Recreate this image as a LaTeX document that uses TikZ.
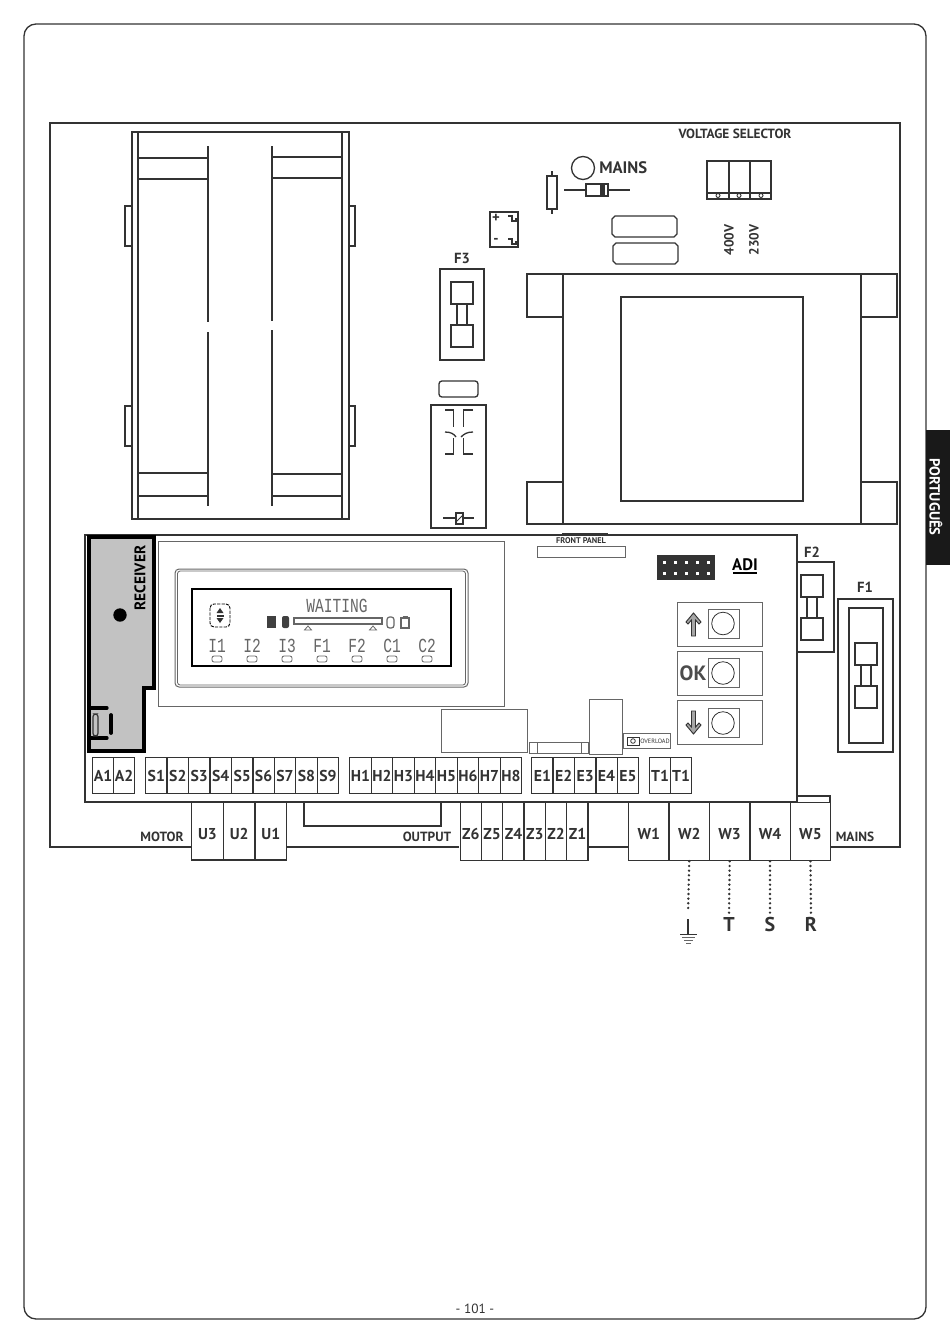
\documentclass[tikz,border=0pt]{standalone}
\usepackage{fontspec}
\setmainfont{PT Sans}
\setmonofont{Liberation Mono}
\usetikzlibrary{calc}

\definecolor{inkline}{HTML}{333333}
\definecolor{pcbgrey}{HTML}{666666}
\definecolor{rxgrey}{HTML}{C2C2C2}

% 1 unit = 1 pixel of the sheet
\tikzset{
  pcbline/.style={draw=inkline, line width=0.98pt},
  fineline/.style={draw=pcbgrey, line width=0.75pt},
  lcdline/.style={draw=pcbgrey, line width=0.6pt},
  termbox/.style={draw=inkline, line width=0.98pt, inner sep=0pt, anchor=north west,
    text=inkline, font=\bfseries\fontsize{11.8}{12}\selectfont},
  caption/.style={inner sep=0pt, text=inkline, font=\bfseries\fontsize{#1}{12}\selectfont},
  caption/.default=10,
  lcdtext/.style={inner sep=0pt, text=pcbgrey, font=\ttfamily\fontsize{#1}{12}\selectfont},
  wiredots/.style={draw=inkline, line width=2pt, line cap=round, dash pattern=on 0pt off 3.5pt, shorten >=2.5pt},
}
% pushes a label down in its cell
\newcommand{\lowtext}[1]{\rule{0pt}{11.8pt}#1}
\newcommand{\lcdglyphs}[1]{\scalebox{0.95}[1.3]{#1}}

\begin{document}
\begin{tikzpicture}[x=0.75pt, y=-0.75pt]

  \useasboundingbox (0,0) rectangle (950,1343);

  % sheet
  \draw[pcbline, rounded corners=9pt] (24,24) rectangle (926,1319);
  \fill[black!90] (926,430) rectangle (950,565);
  \node[caption=11, text=white, rotate=-90] (tab) at (936,497) {PORTUGUÊS};
  \node[inner sep=0pt, text=inkline, font=\fontsize{10}{12}\selectfont] (page) at (475,1309) {- 101 -};

  % board outline, open where the terminals stand
  \draw[pcbline] (191,847) -- (50,847) -- (50,123) -- (900,123) -- (900,847) -- (830,847);
  \draw[pcbline] (286,847) -- (459,847);
  \draw[pcbline] (587,847) -- (628,847);

  % heat sink
  \draw[pcbline] (132,132) rectangle (349,519);
  \draw[pcbline] (138,132) -- (138,519);
  \draw[pcbline] (342,132) -- (342,519);
  \draw[pcbline] (138,158) rectangle (208,179);
  \draw[pcbline] (272,157) rectangle (342,178);
  \draw[pcbline] (138,473) rectangle (208,496);
  \draw[pcbline] (272,474) rectangle (342,496);
  \draw[pcbline] (208,146) -- (208,322);
  \draw[pcbline] (208,332) -- (208,506);
  \draw[pcbline] (272,146) -- (272,321);
  \draw[pcbline] (272,330) -- (272,506);
  \foreach \ty in {206,406} {
    \draw[pcbline] (132,\ty) -- (125,\ty) -- (125,\ty+40) -- (132,\ty+40);
    \draw[pcbline] (349,\ty) -- (355,\ty) -- (355,\ty+40) -- (349,\ty+40);
  }

  % mains section
  \node[caption=10] (voltsel) at (735,134) {VOLTAGE SELECTOR};
  \draw[pcbline] (583,168) circle (11.5);
  \node[caption=12.5, anchor=west] (mainsled) at (599,168) {MAINS};
  \draw[pcbline] (552,171) -- (552,214);
  \draw[pcbline, fill=white] (547,176) rectangle (557,209);
  \draw[pcbline] (564,190) -- (630,190);
  \draw[pcbline, fill=white] (586,184) rectangle (608,196);
  \fill[inkline] (600,184) rectangle (605,196);

  % voltage selector
  \draw[pcbline] (707,161) rectangle (771,199);
  \draw[pcbline] (729,161) -- (729,199);
  \draw[pcbline] (750,161) -- (750,199);
  \draw[pcbline] (707,193) -- (771,193);
  \foreach \vx in {718,739,761} \draw[line width=0.7pt, draw=inkline] (\vx,195.5) circle (2);
  \node[caption=10, rotate=90] (v400) at (729,240) {400V};
  \node[caption=10, rotate=90] (v230) at (754,240) {230V};

  % bridge
  \draw[pcbline] (490,212) rectangle (518,247);
  \draw[inkline, line width=1.8pt] (490,212) -- (518,212);
  \node[caption=11] (plus) at (496,218) {+};
  \node[caption=11] (minus) at (496,241) {-};
  \foreach \by in {0,23}
    \draw[inkline, line width=0.9pt] (508,216+\by) -- (512,216+\by) -- (512,221+\by) -- (516,221+\by) -- (516,218+\by);

  % capacitors
  \foreach \cx/\cy in {612/216,613/243}
    \draw[pcbline, shift={(\cx,\cy)}] (3,0) -- (62,0) -- (65,3) -- (65,18) -- (62,21) -- (3,21) -- (0,18) -- (0,3) -- cycle;

  % transformer
  \draw[pcbline] (563,274) rectangle (861,524);
  \draw[pcbline] (621,297) rectangle (803,501);
  \draw[pcbline] (527,274) rectangle (563,317);
  \draw[pcbline] (527,482) rectangle (563,524);
  \draw[pcbline] (861,274) rectangle (897,317);
  \draw[pcbline] (861,482) rectangle (897,524);

  % fuses
  \node[caption=11] (f3) at (462,258) {F3};
  \draw[pcbline] (440,269) rectangle (484,360);
  \node[caption=11] (f2) at (812,552) {F2};
  \draw[pcbline] (797,562) rectangle (834,652);
  \node[caption=11] (f1) at (865,587) {F1};
  \draw[pcbline] (838,599) rectangle (893,752);
  \draw[pcbline] (849,608) rectangle (883,743);
  \foreach \fx/\fy in {451/282,801/575,855/643} {
    \begin{scope}[shift={(\fx,\fy)}]
      \draw[pcbline] (0,0) rectangle (22,22);
      \draw[pcbline] (0,43) rectangle (22,65);
      \draw[pcbline] (6,22) -- (6,43);
      \draw[pcbline] (16,22) -- (16,43);
    \end{scope}
  }

  % relay
  \draw[pcbline, rounded corners=2.2pt] (439,381) rectangle (478,397);
  \draw[pcbline] (431,405) rectangle (486,528);
  \draw[pcbline] (445,410) -- (453.3,410) -- (453.3,427);
  \draw[pcbline] (473,410) -- (463.3,410) -- (463.3,427);
  \draw[pcbline] (445,454) -- (453.3,454) -- (453.3,438);
  \draw[pcbline] (473,454) -- (463.3,454) -- (463.3,438);
  \draw[pcbline] (445,432) .. controls (451,432) and (454,434) .. (456,437);
  \draw[pcbline] (473,432) .. controls (467,432) and (464,434) .. (461,437);
  \draw[pcbline] (443,518) -- (474,518);
  \draw[pcbline, fill=white] (456,513) rectangle (463,524);
  \draw[inkline, line width=0.7pt] (456,522) -- (463,515);

  % lower terminal blocks (the board lies over them)
  \foreach \lab [count=\i from 0] in {U3,U2,U1} {
    \node[termbox, minimum width=23.75pt, minimum height=43pt] (t\lab) at (191+\i*31.67,802) {\lowtext{\lab}};
  }
  \foreach \lab [count=\i from 0] in {Z6,Z5,Z4,Z3,Z2,Z1} {
    \node[termbox, minimum width=16pt, minimum height=43.5pt] (t\lab) at (459.5+\i*21.33,802) {\lowtext{\lab}};
  }
  \foreach \lab [count=\i from 0] in {W1,W2,W3,W4,W5} {
    \node[termbox, minimum width=30.3pt, minimum height=43.5pt] (t\lab) at (628+\i*40.4,802) {\lowtext{\lab}};
  }
  \draw[pcbline] (790,802) -- (790,796) -- (830,796) -- (830,802);

  % control board
  \draw[pcbline, fill=white] (85,535) rectangle (797,802);
  \draw[pcbline] (304,802) -- (304,826) -- (441,826) -- (441,802);
  \draw[inkline, line width=1.6pt] (562,534.5) -- (608,534.5);

  % receiver
  \draw[black, fill=rxgrey, line width=2.5pt] (89,537) -- (154,537) -- (154,688) -- (144,688) -- (144,751) -- (89,751) -- cycle;
  \fill[black] (120,615) circle (6.7);
  \node[caption=11.5, text=black, rotate=90] (receiver) at (140,578) {RECEIVER};
  \draw[black, line width=2.5pt, line cap=round] (89,708) -- (107,708);
  \draw[black, line width=2.5pt, line cap=round] (89,738) -- (107,738);
  \draw[black, line width=2.8pt, line cap=round] (111,715) -- (111,733);
  \draw[inkline, line width=0.9pt, rounded corners=2pt] (93,714) rectangle (98,736);

  % display
  \draw[fineline] (158,541) rectangle (504,706);
  \draw[fineline, rounded corners=3pt] (175,569) rectangle (468,687);
  \draw[lcdline, rounded corners=2pt] (177.5,571) rectangle (465.5,685);
  \draw[black, line width=0.8pt] (192,589) rectangle (451,666);
  \draw[black, line width=0.7pt, dash pattern=on 2.4pt off 0.9pt, rounded corners=3pt] (210,604) rectangle (230,627);
  \fill[black!80] (216.5,613) -- (223.5,613) -- (220,608) -- cycle;
  \fill[black!80] (216.5,618) -- (223.5,618) -- (220,623) -- cycle;
  \fill[black!80] (216.5,614.5) rectangle (223.5,616.5);
  \node[lcdtext=11.5] (waiting) at (337,606) {\lcdglyphs{WAITING}};
  \fill[black!75] (267,616) rectangle (276,628);
  \fill[black!75, rounded corners=1.5pt] (282,616) rectangle (289,628);
  \draw[lcdline, line width=0.9pt] (294,618) rectangle (382,624);
  \draw[lcdline, rounded corners=2pt, line width=0.9pt] (387,617) rectangle (394,628);
  \draw[lcdline, line width=0.9pt] (401,618) rectangle (409,628);
  \draw[lcdline, line width=1.1pt] (402.5,616.5) -- (407.5,616.5);
  \foreach \tx in {308,373}
    \draw[lcdline] (\tx-3.5,630) -- (\tx,626) -- (\tx+3.5,630) -- cycle;
  \foreach \lab/\lx in {I1/217,I2/252,I3/287,F1/322,F2/357,C1/392,C2/427} {
    \node[lcdtext=11.5] (lcd\lab) at (\lx,646) {\lcdglyphs{\lab}};
    \draw[lcdline, rounded corners=1.5pt] (\lx-5,656) rectangle (\lx+5,662);
  }

  % front panel, connector, logo
  \node[caption=6.2] (frontpanel) at (581,541) {FRONT PANEL};
  \draw[fineline] (537,546) rectangle (625,557);
  \fill[inkline] (657,555) rectangle (715,580);
  \foreach \px in {664,675,686,697,708}
    \foreach \py in {562,573}
      \fill[white] (\px-1.5,\py-1.5) rectangle (\px+1.5,\py+1.5);
  \node[caption=12.5, text=black] (logo) at (745,565) {ADI};
  \draw[black, line width=1.1pt] (733,573) -- (757,573);

  % push buttons
  \foreach \bty/\cty in {602/623.5,651/673,700/723} {
    \draw[fineline] (677,\bty) rectangle (762,\bty+44.5);
    \draw[fineline] (708,\cty-14.5) rectangle (739,\cty+14.5);
    \draw[draw=inkline, line width=0.6pt] (723,\cty) circle (11.3);
  }
  \foreach \ay/\as in {613/1,734/-1} {
    \draw[shift={(0,\ay)}, yscale=\as, draw=inkline, fill=black!35, line width=0.7pt]
      (693.5,0) -- (701,9) -- (699,11) -- (695.5,7) -- (695.5,23) -- (691.5,23) -- (691.5,7) -- (688,11) -- (686,9) -- cycle;
  }
  \node[caption=15.5, text=black!70] (ok) at (693,673) {OK};

  % parts above the terminals
  \draw[fineline] (441,709) rectangle (527,752);
  \draw[fineline] (529,742) rectangle (588,753);
  \draw[fineline] (537,742) -- (537,753);
  \draw[fineline] (581,742) -- (581,753);
  \draw[fineline, fill=white] (589,699) rectangle (622,754);
  \draw[fineline] (623,733) rectangle (670,748);
  \draw[draw=inkline, line width=0.6pt] (627,737) rectangle (639,745);
  \draw[draw=inkline, line width=0.6pt] (633,741) circle (2.3);
  \node[inner sep=0pt, text=inkline, font=\fontsize{4.7}{6}\selectfont] (overload) at (655,741) {OVERLOAD};

  % upper terminal blocks
  \foreach \lab [count=\i from 0] in {A1,A2} {
    \node[termbox, minimum width=15.75pt, minimum height=27pt] (t\lab) at (92+\i*21,757) {\lab};
  }
  \foreach \i in {1,...,9} {
    \node[termbox, minimum width=16.08pt, minimum height=27pt] (tS\i) at (145+\i*21.44-21.44,757) {S\i};
  }
  \foreach \i in {1,...,8} {
    \node[termbox, minimum width=16.13pt, minimum height=27pt] (tH\i) at (349+\i*21.5-21.5,757) {H\i};
  }
  \foreach \i in {1,...,5} {
    \node[termbox, minimum width=16.05pt, minimum height=27pt] (tE\i) at (531+\i*21.4-21.4,757) {E\i};
  }
  \foreach \i in {0,1} {
    \node[termbox, minimum width=15.75pt, minimum height=27pt] (tT\i) at (649+\i*21,757) {T1};
  }

  % wire captions and mains wires
  \node[caption=10] (motor) at (162,837) {MOTOR};
  \node[caption=10] (output) at (427,837) {OUTPUT};
  \node[caption=10] (mains) at (855,837) {MAINS};
  \node[caption=15] (phT) at (729,924) {T};
  \node[caption=15] (phS) at (770,924) {S};
  \node[caption=15] (phR) at (811,924) {R};
  \coordinate (earth) at (688,914);
  \draw[wiredots] (tW2.south) -- (earth);
  \draw[wiredots] (tW3.south) -- (phT.north);
  \draw[wiredots] (tW4.south) -- (phS.north);
  \draw[wiredots] (tW5.south) -- (phR.north);

  % earth symbol
  \draw[pcbline] (688,919) -- (688,934);
  \draw[draw=inkline, line width=0.7pt] (680,934) -- (697,934);
  \draw[draw=pcbgrey, line width=0.6pt] (682,937.5) -- (695,937.5);
  \draw[draw=pcbgrey, line width=0.6pt] (684,940.5) -- (693,940.5);
  \draw[draw=pcbgrey, line width=0.6pt] (686,943) -- (691,943);

\end{tikzpicture}
\end{document}
